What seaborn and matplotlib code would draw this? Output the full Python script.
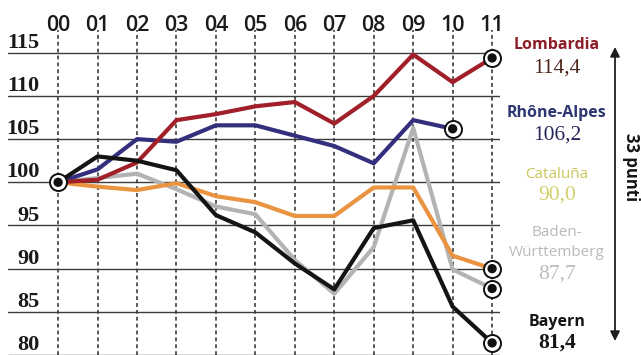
import matplotlib
matplotlib.use("Agg")
import matplotlib.pyplot as plt
import numpy as np
import pandas as pd
import seaborn as sns

# Indice (2000 = 100) per regione
anni = ["00", "01", "02", "03", "04", "05", "06", "07", "08", "09", "10", "11"]
lombardia = [100, 100.3, 102.3, 107.2, 107.9, 108.8, 109.3, 106.8, 110.0, 114.8, 111.6, 114.4]
rhone_alpes = [100, 101.5, 105.0, 104.7, 106.6, 106.6, 105.4, 104.2, 102.2, 107.2, 106.2, None]
cataluna = [100, 99.5, 99.1, 99.9, 98.4, 97.7, 96.1, 96.1, 99.4, 99.4, 91.5, 90.0]
baden = [100, 100.5, 101.0, 99.2, 97.2, 96.3, 91.0, 87.1, 92.5, 106.3, 89.9, 87.7]
bayern = [100, 103.0, 102.5, 101.4, 96.2, 94.2, 90.6, 87.6, 94.7, 95.6, 85.6, 81.4]

regioni = ["Baden-Württemberg", "Cataluña", "Rhône-Alpes", "Lombardia", "Bayern"]
serie = [baden, cataluna, rhone_alpes, lombardia, bayern]
colori = {
    "Lombardia": "#a01f28",
    "Rhône-Alpes": "#332f7c",
    "Cataluña": "#ea9340",
    "Baden-Württemberg": "#b3b3b3",
    "Bayern": "#141414",
}
y_ticks = [80, 85, 90, 95, 100, 105, 110, 115]

rows = []
for nome, valori in zip(regioni, serie):
    for i, v in enumerate(valori):
        if v is not None:
            rows.append({"anno": i, "valore": v, "regione": nome})
df = pd.DataFrame(rows)

sns.set_style("white")
plt.rcParams["font.family"] = ["Open Sans", "DejaVu Sans"]

W, H = 641, 355
fig = plt.figure(figsize=(W / 100, H / 100), dpi=100)
fig.patch.set_facecolor("white")

def fx(px):
    return px / W

def fy(py):
    return 1 - py / H

# axes: left edge at px 8, right edge at px 500, top at px 30, bottom at image bottom
ax = fig.add_axes([fx(8), 0, fx(500) - fx(8), 1 - 30 / H])
ax.set_xlim(-1.27, 11.2)
ax.set_ylim(80.41, 117.64)

# grid
ax.set_yticks(y_ticks)
ax.set_xticks(range(len(anni)))
ax.set_xticklabels(anni, fontweight="semibold")
ax.grid(axis="y", color="#3c3c3c", linewidth=1.0, linestyle="-")
ax.grid(axis="x", color="#2a2a2a", linewidth=1.1, linestyle=(0, (2.5, 2)))
ax.set_axisbelow(True)
for s in ax.spines.values():
    s.set_visible(False)
ax.xaxis.tick_top()
ax.tick_params(axis="x", length=0, pad=-4, labelsize=15.5, labelcolor="#1a1a1a")
ax.tick_params(axis="y", length=0, labelleft=False)

# y labels sitting just above each gridline
for v in y_ticks:
    ax.text(-0.47, v + 1.15, str(v), ha="right", va="center", fontsize=16,
            fontweight="bold", family="Liberation Serif", color="#1a1a1a")

sns.lineplot(data=df, x="anno", y="valore", hue="regione", hue_order=regioni,
             palette=colori, linewidth=3.0, legend=False, ax=ax, sort=False)
ax.set_xlabel("")
ax.set_ylabel("")

# target markers: common start and each series end
punti_x = [0]
punti_y = [100]
for valori in serie:
    idx = max(i for i, v in enumerate(valori) if v is not None)
    punti_x.append(idx)
    punti_y.append(valori[idx])
ax.scatter(punti_x, punti_y, s=150, facecolor="white", edgecolor="#111111",
           linewidth=1.4, zorder=6, clip_on=False)
ax.scatter(punti_x, punti_y, s=45, facecolor="#111111", edgecolor="none",
           zorder=7, clip_on=False)

# labels on the right
cx = fx(557)
etichette = [
    ("Lombardia", 45, "#8c1d27", "bold", "Open Sans", 11.5),
    ("114,4", 68, "#4a2418", "normal", "Liberation Serif", 15.5),
    ("Rhône-Alpes", 113, "#2c3670", "bold", "Open Sans", 11.5),
    ("106,2", 135, "#27265a", "normal", "Liberation Serif", 15.5),
    ("Cataluña", 174, "#c9c65a", "normal", "Open Sans", 11),
    ("90,0", 195, "#d2cf6c", "normal", "Liberation Serif", 15.5),
    ("Baden-", 233, "#bababa", "normal", "Open Sans", 11),
    ("Württemberg", 252, "#bababa", "normal", "Open Sans", 11),
    ("87,7", 274, "#bdbdbd", "normal", "Liberation Serif", 15.5),
    ("Bayern", 322, "#141414", "bold", "Open Sans", 11.5),
    ("81,4", 343, "#141414", "bold", "Liberation Serif", 15.5),
]
for testo, py, col, peso, fam, size in etichette:
    fig.text(cx, fy(py), testo, ha="center", va="center", color=col,
             fontweight=peso, family=fam, fontsize=size)

# range arrow
ax.annotate("", xy=(fx(615), fy(47)), xytext=(fx(615), fy(341)),
            xycoords="figure fraction", textcoords="figure fraction",
            arrowprops=dict(arrowstyle="<|-|>", color="#1e1e1e", lw=1.3,
                            mutation_scale=14, shrinkA=0, shrinkB=0))
fig.text(fx(631), fy(167), "33 punti", rotation=270, ha="center", va="center",
         fontsize=12, fontweight="bold", color="#141414")

fig.savefig("out.png", dpi=100, facecolor="white")
